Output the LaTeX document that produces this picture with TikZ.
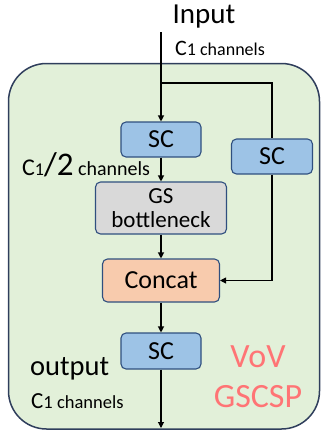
\documentclass[tikz,border=0pt]{standalone}
\usepackage{fontspec}
\setmainfont{Carlito}
\usetikzlibrary{arrows.meta}

\definecolor{panelfill}{HTML}{E2F0D9}
\definecolor{panelline}{HTML}{2F3E5C}
\definecolor{scfill}{HTML}{9DC3E6}
\definecolor{boxline}{HTML}{2F4F7F}
\definecolor{gsfill}{HTML}{D9D9D9}
\definecolor{catfill}{HTML}{F8CBAD}
\definecolor{tagred}{HTML}{FF7475}

\newcommand{\fs}[1]{\fontsize{#1}{#1}\selectfont}

\tikzset{
  block/.style={draw=boxline, line width=1.1pt, rounded corners=5pt,
    align=center, inner sep=0pt, text=black},
  scblock/.style={block, fill=scfill, minimum width=80pt, minimum height=35pt,
    font=\fs{26}},
  flow/.style={line width=1.1pt, -{Triangle[length=6pt,width=6pt]}},
  plain/.style={line width=1.1pt},
  note/.style={inner sep=0pt, anchor=base west},
}

\begin{document}
\begin{tikzpicture}[x=1pt, y=-1pt]
  \useasboundingbox (0,0) rectangle (321,432);

  % module panel
  \draw[panelline, fill=panelfill, line width=1.5pt, rounded corners=38pt]
    (8.5,63.5) rectangle (319.5,429);

  % blocks
  \node[scblock] (sc1) at (161,139.5) {SC};
  \node[scblock, minimum width=81pt] (scr) at (272,156.5) {SC};
  \node[block, fill=gsfill, minimum width=131pt, minimum height=52pt,
        font=\fs{23}] (gs) at (161,208) {GS\\[1pt]bottleneck};
  \node[block, fill=catfill, minimum width=117pt, minimum height=43pt,
        font=\fs{26}] (cat) at (161,280.5) {Concat};
  \node[scblock, minimum height=36pt] (sc2) at (161,351) {SC};

  % free ends and the split point
  \coordinate (in) at (161,32);
  \coordinate (split) at (161,83);
  \coordinate (out) at (161,428);

  % connectors
  \draw[flow] (in) -- (sc1.north);
  \draw[plain] (split) -| (scr.north);
  \draw[flow] (sc1) -- (gs);
  \draw[flow] (gs) -- (cat);
  \draw[flow] (scr.south) |- (cat.east);
  \draw[flow] (cat) -- (sc2);
  \draw[flow] (sc2) -- (out);

  % labels
  \node[inner sep=0pt, anchor=base, font=\fs{29}] (inlbl) at (204,23) {Input};
  \node[note] (c1top) at (175,55) {\fs{22}C\fs{18}1 channels};
  \node[note] (chalf) at (22,175)
    {\fs{24}C\fs{18}1\fs{33}/2\fs{20} channels};
  \node[note, font=\fs{28.5}] (outlbl) at (30,375) {output};
  \node[note] (c1bot) at (31,408) {\fs{23}C\fs{18.5}1 channels};
  \node[inner sep=0pt, anchor=base, text=tagred, font=\fs{34}] (vov)
    at (258,367) {VoV};
  \node[inner sep=0pt, anchor=base, text=tagred, font=\fs{34}] (gscsp)
    at (258,407) {GSCSP};
\end{tikzpicture}
\end{document}
